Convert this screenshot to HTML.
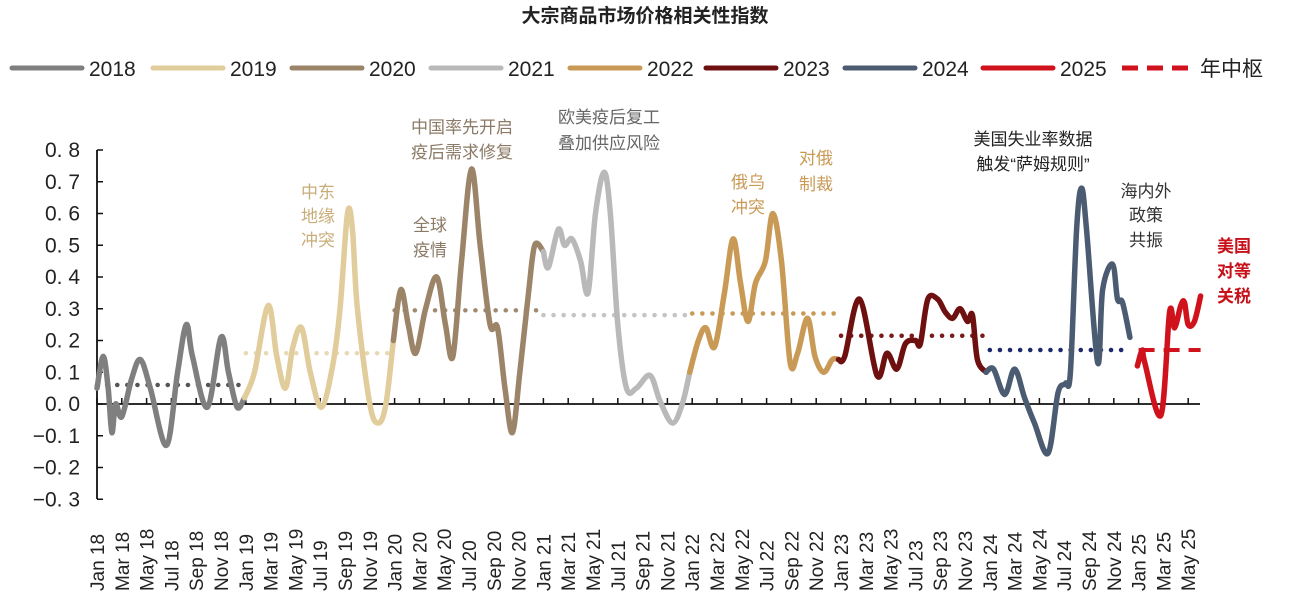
<!DOCTYPE html>
<html><head><meta charset="utf-8"><style>
body{margin:0;background:#fff;}
svg{display:block;font-family:"Liberation Sans","Noto Sans CJK SC",sans-serif;}
</style></head><body>
<svg id="c" width="1290" height="609">
<text x="645" y="22" text-anchor="middle" font-size="19" font-weight="bold" fill="#222">大宗商品市场价格相关性指数</text>
<g id="legend"></g>
<g id="axes"></g>
<g id="means"></g>
<g id="series"></g>
<g id="notes"></g>
</svg>
<script>
const years=["2018","2019","2020","2021","2022","2023","2024","2025"];
const colors=["#7f7f7f","#e1cc9c","#9b8468","#b9b9b9","#c99a56","#6e1010","#4b5b72","#d0121c"];
const m2018=[0,0.5,0.9,1.2,1.5,2.0,2.8,3.5,4.3,5.6,6.5,7.2,7.7,8.9,10.0,10.6,11.3,11.9];
const v2018=[0.05,0.15,0.05,-0.09,0.0,-0.04,0.08,0.14,0.05,-0.13,0.1,0.25,0.15,-0.01,0.21,0.1,-0.01,0.02];
const m2019=[11.9,12.7,13.8,14.5,15.2,15.8,16.5,17.2,18.1,19.0,19.6,20.2,20.6,21.0,22.0,22.7,23.3,23.9];
const v2019=[0.02,0.1,0.31,0.15,0.05,0.18,0.24,0.1,-0.01,0.12,0.3,0.6,0.55,0.3,0.0,-0.06,0.0,0.2];
const m2020=[23.9,24.5,25.1,25.7,26.5,27.4,28.1,28.7,29.4,30.2,30.9,31.7,32.3,32.9,33.5,34.1,34.8,35.3,36.0];
const v2020=[0.2,0.36,0.25,0.16,0.3,0.4,0.25,0.15,0.45,0.74,0.5,0.25,0.24,0.05,-0.09,0.1,0.35,0.5,0.48];
const m2021=[36.0,36.4,37.2,37.7,38.3,39.0,39.6,40.2,40.9,41.4,42.0,42.7,43.5,44.6,45.4,46.4,47.2,47.8];
const v2021=[0.48,0.43,0.55,0.5,0.52,0.45,0.35,0.6,0.73,0.6,0.25,0.05,0.05,0.09,0.01,-0.06,0.0,0.1];
const m2022=[47.8,48.5,49.1,49.8,50.6,51.3,51.9,52.5,53.1,53.9,54.5,55.2,55.9,56.5,57.3,57.9,58.6,59.3,59.8];
const v2022=[0.1,0.2,0.24,0.18,0.35,0.52,0.38,0.26,0.38,0.45,0.6,0.45,0.13,0.16,0.27,0.15,0.1,0.14,0.14];
const m2023=[59.8,60.3,61.5,62.9,63.7,64.5,65.2,66.0,66.4,67.0,67.8,68.4,69.0,69.6,70.2,70.6,71.0,71.7];
const v2023=[0.14,0.15,0.33,0.09,0.16,0.11,0.19,0.2,0.19,0.33,0.33,0.29,0.27,0.3,0.26,0.28,0.14,0.1];
const m2024=[71.7,72.3,73.2,74.0,74.8,75.6,76.7,77.5,78.1,78.5,79.0,79.4,79.8,80.7,81.1,81.9,82.3,82.7,83.3];
const v2024=[0.1,0.11,0.03,0.11,0.02,-0.06,-0.155,0.035,0.065,0.1,0.55,0.68,0.55,0.13,0.36,0.44,0.33,0.32,0.21];
const m2025=[83.9,84.3,84.5,85.8,86.5,86.9,87.4,87.7,88.0,88.5,89.0];
const v2025=[0.12,0.17,0.13,-0.035,0.29,0.24,0.31,0.32,0.25,0.26,0.34];
const meanStart=[0,12,24,36,48,60,72,84];
const meanEnd=[12,24,36,48,60,72,83.3,89];
const meanVals=[0.06,0.16,0.295,0.28,0.285,0.215,0.17,0.17];
const meanColors=["#555555","#e8d9b5","#a08a6d","#c4c4c4","#c99a56","#7a1a1a","#1c2a6c","#d0121c"];
const yTicks=[0.8,0.7,0.6,0.5,0.4,0.3,0.2,0.1,0.0,-0.1,-0.2,-0.3];
const monthNames=["Jan","Mar","May","Jul","Sep","Nov"];
const allM=[m2018,m2019,m2020,m2021,m2022,m2023,m2024,m2025];
const allV=[v2018,v2019,v2020,v2021,v2022,v2023,v2024,v2025];

const NS="http://www.w3.org/2000/svg";
const X=m=>97+m*12.4;
const Y=v=>404-v*317.5;
function mk(t,a,p){const e=document.createElementNS(NS,t);for(const k in a)e.setAttribute(k,a[k]);p.appendChild(e);return e;}

const ax=document.getElementById('axes');
const yAxis=mk('line',{x1:97,y1:150,x2:97,y2:499,stroke:'#111','stroke-width':1.8},ax);


yTicks.forEach(t=>{
  const l=mk('line',{x1:97,y1:Y(t),x2:103,y2:Y(t),stroke:'#111','stroke-width':1.5},ax);
  
  
  const s=mk('text',{x:80,y:Y(t)+7,'text-anchor':'end','font-size':21,fill:'#222'},ax);
  s.textContent=(t<0?'−':'')+Math.abs(t).toFixed(1).replace('.','. ');
  
  
});
const xAxis=mk('line',{x1:97,y1:Y(0),x2:1200,y2:Y(0),stroke:'#111','stroke-width':1.8},ax);


for(let m=0;m<=88;m+=2){
  const x=X(m);
  const l=mk('line',{x1:x,y1:Y(0),x2:x,y2:Y(0)-6,stroke:'#111','stroke-width':1.5},ax);
  
  
  const yr=18+Math.floor(m/12);
  const s=mk('text',{x:0,y:0,'font-size':19,fill:'#222',transform:`translate(${x+7},591) rotate(-90)`},ax);
  s.textContent=monthNames[(m%12)/2]+' '+yr;
  
  
}

const mg=document.getElementById('means');
meanVals.forEach((v,i)=>{
  const dash=i===7;
  const l=mk('line',{x1:X(meanStart[i]),y1:Y(v),x2:X(meanEnd[i]),y2:Y(v),stroke:meanColors[i],
    'stroke-width':dash?4:4.5,'stroke-linecap':dash?'butt':'round','stroke-dasharray':dash?'16 9':'0.1 10'},mg);
  
  
});

function smooth(pts){
  let d=`M${pts[0][0]},${pts[0][1]}`;
  for(let i=0;i<pts.length-1;i++){
    const p0=pts[Math.max(0,i-1)],p1=pts[i],p2=pts[i+1],p3=pts[Math.min(pts.length-1,i+2)];
    const c1=[p1[0]+(p2[0]-p0[0])/6,p1[1]+(p2[1]-p0[1])/6];
    const c2=[p2[0]-(p3[0]-p1[0])/6,p2[1]-(p3[1]-p1[1])/6];
    d+=`C${c1[0]},${c1[1]} ${c2[0]},${c2[1]} ${p2[0]},${p2[1]}`;
  }
  return d;
}
const sg=document.getElementById('series');
years.forEach((y,i)=>{
  const pts=allM[i].map((m,j)=>[X(m),Y(allV[i][j])]);
  const p=mk('path',{d:smooth(pts),fill:'none',stroke:colors[i],'stroke-width':5.5,'stroke-linejoin':'round','stroke-linecap':'round'},sg);
  
  
});

const lg=document.getElementById('legend');
const legX=[12,153,292,431,570,706,845,983];
years.forEach((y,i)=>{
  const l=mk('line',{x1:legX[i],y1:68,x2:legX[i]+70,y2:68,stroke:colors[i],'stroke-width':5,'stroke-linecap':'round'},lg);
  
  
  const t=mk('text',{x:legX[i]+77,y:76,'font-size':21,fill:'#222'},lg);
  t.textContent=y;
  
  
});
const ld=mk('line',{x1:1122,y1:68,x2:1190,y2:68,stroke:'#d0121c','stroke-width':5,'stroke-dasharray':'16 9'},lg);


const lt=mk('text',{x:1200,y:76,'font-size':21,fill:'#222'},lg);
lt.textContent='年中枢';



const notes=[
 [318,[198,222,246],["中东","地缘","冲突"],"#c9ad79","annotation-middle-east"],
 [430,[231,256],["全球","疫情"],"#8b7a66","annotation-pandemic"],
 [462,[133,158],["中国率先开启","疫后需求修复"],"#8b7a66","annotation-china-recovery"],
 [609,[123,149],["欧美疫后复工","叠加供应风险"],"#666","annotation-west-reopening"],
 [748,[188,213],["俄乌","冲突"],"#c99a56","annotation-russia-ukraine"],
 [816,[164,190],["对俄","制裁"],"#c99a56","annotation-sanctions"],
 [1033,[145,170],["美国失业率数据","触发“萨姆规则”"],"#222","annotation-sahm-rule"],
 [1146,[197,221,246],["海内外","政策","共振"],"#333","annotation-policy"],
 [1234,[252,277,302],["美国","对等","关税"],"#c8101a","annotation-tariffs"]
];
const ng=document.getElementById('notes');
notes.forEach(n=>{
  n[1].forEach((y,j)=>{
    const t=mk('text',{x:n[0],y:y,'text-anchor':'middle','font-size':17,fill:n[3],'font-weight':n[4]==='annotation-tariffs'?'bold':'normal'},ng);
    t.textContent=n[2][j];
    
    
  });
});
</script>
</body></html>
